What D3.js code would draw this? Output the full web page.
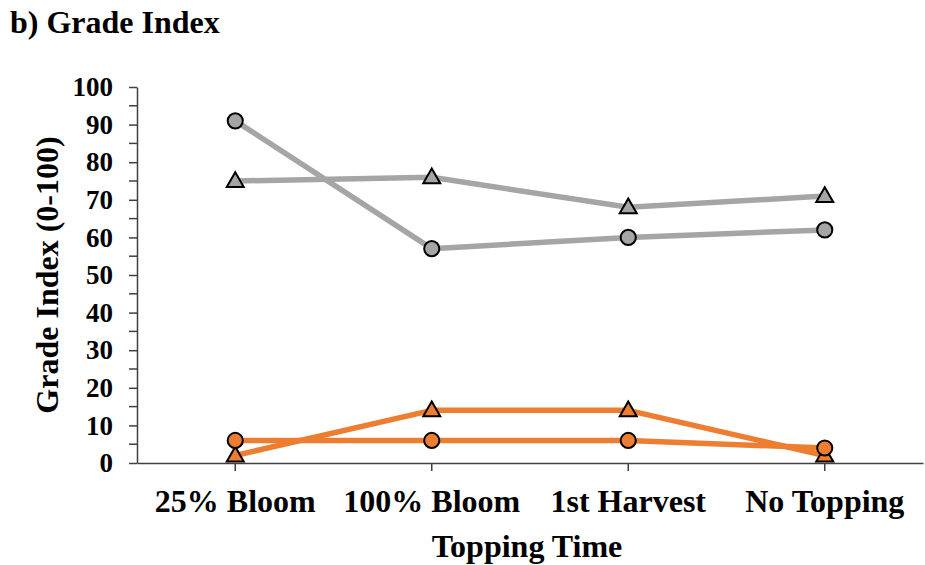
<!DOCTYPE html>
<html><head><meta charset="utf-8">
<script src="https://cdn.jsdelivr.net/npm/d3@7"></script>
<style>body{margin:0;background:#fff}</style>
</head><body>
<svg id="c" width="925" height="565"></svg>
<script>
const categories = ["25% Bloom", "100% Bloom", "1st Harvest", "No Topping"];
const grayCircle = [91, 57, 60, 62];
const grayTriangle = [75, 76, 68, 71];
const orangeCircle = [6, 6, 6, 4];
const orangeTriangle = [2, 14, 14, 2];
const yTicks = [0,10,20,30,40,50,60,70,80,90,100];
const minorTicks = [5,15,25,35,45,55,65,75,85,95];

const series = [
  {values: grayCircle, color: "#A5A5A5", shape: "circle"},
  {values: grayTriangle, color: "#A5A5A5", shape: "triangle"},
  {values: orangeTriangle, color: "#ED7D31", shape: "triangle"},
  {values: orangeCircle, color: "#ED7D31", shape: "circle"}
];

const svg = d3.select("#c");
const font = "'Liberation Serif','Times New Roman',serif";
const pLeft = 137, pRight = 923, pTop = 87, pBottom = 463;
const x = d3.scaleBand().domain(categories).range([pLeft, pRight]);
const y = d3.scaleLinear().domain([0, 100]).range([pBottom, pTop]);
const axisColor = "#404040";

svg.append("text").attr("x", 10).attr("y", 33).text("b) Grade Index")
  .attr("font-family", font).attr("font-weight", "bold").attr("font-size", 32);

// y axis
const ya = svg.append("g").attr("transform", `translate(${pLeft},0)`)
  .call(d3.axisLeft(y).tickValues(yTicks).tickSize(8).tickPadding(16).tickSizeOuter(0));
ya.select(".domain").attr("stroke", axisColor).attr("stroke-width", 1.5);
ya.selectAll(".tick line").attr("stroke", axisColor).attr("stroke-width", 1.5);
ya.selectAll(".tick text").attr("font-family", font).attr("font-weight", "bold").attr("font-size", 27).attr("fill", "#000");
ya.selectAll(".minor").data(minorTicks).enter().append("line")
  .attr("x1", -8).attr("x2", 0).attr("y1", d => y(d)).attr("y2", d => y(d))
  .attr("stroke", axisColor).attr("stroke-width", 1.5);

// x axis
const xa = svg.append("g").attr("transform", `translate(0,${pBottom})`)
  .call(d3.axisBottom(x).tickSize(8).tickPadding(18).tickSizeOuter(0));
xa.select(".domain").attr("stroke", axisColor).attr("stroke-width", 1.5);
xa.selectAll(".tick line").attr("stroke", axisColor).attr("stroke-width", 1.5);
xa.selectAll(".tick text").attr("font-family", font).attr("font-weight", "bold").attr("font-size", 32).attr("fill", "#000");

svg.append("text").attr("x", (pLeft + pRight) / 2 - 3).attr("y", 557).attr("text-anchor", "middle")
  .text("Topping Time").attr("font-family", font).attr("font-weight", "bold").attr("font-size", 32);
svg.append("text").attr("transform", `translate(58,${(pTop + pBottom) / 2}) rotate(-90)`).attr("text-anchor", "middle")
  .text("Grade Index (0-100)").attr("font-family", font).attr("font-weight", "bold").attr("font-size", 32);

const cx = (d, i) => x(categories[i]) + x.bandwidth() / 2;
const line = d3.line().x(cx).y(d => y(d));

series.forEach(s => {
  svg.append("path").datum(s.values).attr("d", line).attr("fill", "none")
    .attr("stroke", s.color).attr("stroke-width", 5.5).attr("stroke-linejoin", "round");
});
series.forEach(s => {
  const sym = d3.symbol().type(s.shape === "circle" ? d3.symbolCircle : d3.symbolTriangle)
    .size(s.shape === "circle" ? 180 : 125);
  svg.append("g").selectAll("path").data(s.values).enter().append("path")
    .attr("d", sym)
    .attr("transform", (d, i) => `translate(${cx(d, i)},${y(d) + (s.shape === "triangle" ? 1 : 0)})`)
    .attr("fill", s.color).attr("stroke", "#000").attr("stroke-width", 2);
});
</script>
</body></html>
